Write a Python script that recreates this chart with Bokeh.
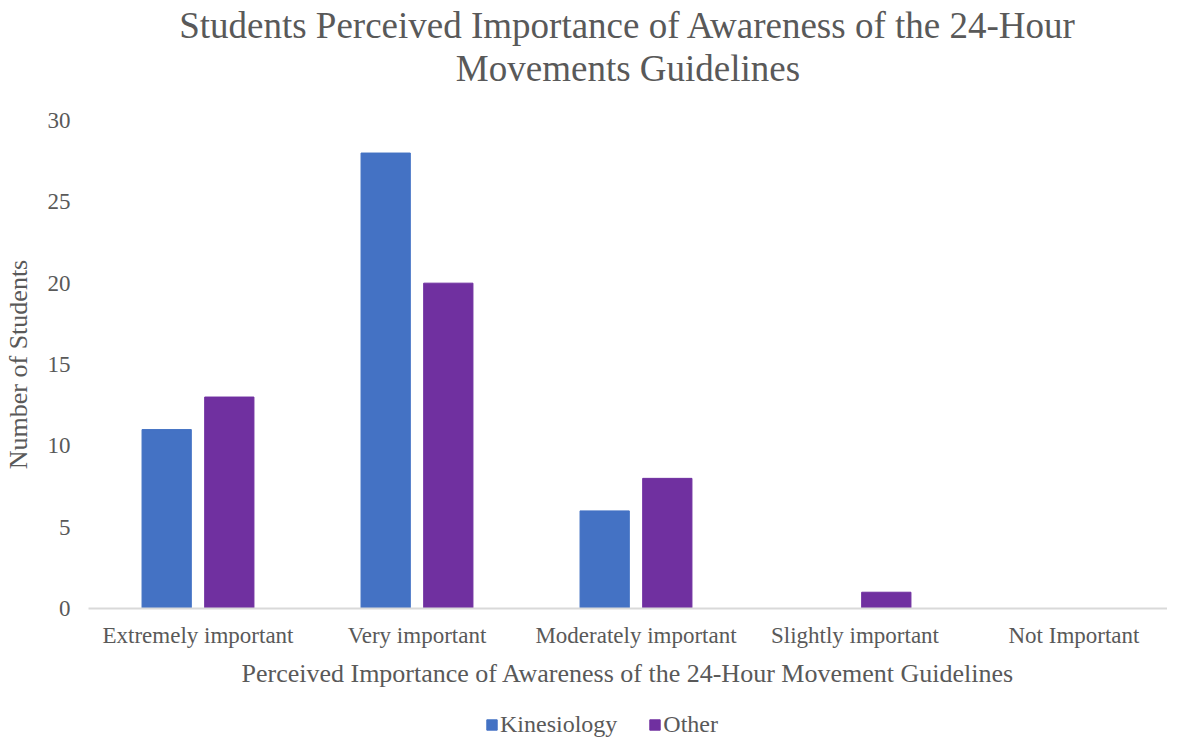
from bokeh.plotting import figure
from bokeh.layouts import column
from bokeh.models import Range1d, Title, Legend, LegendItem, ColumnDataSource, SingleIntervalTicker, FixedTicker
from bokeh.embed import file_html
from bokeh.resources import INLINE

categories = ["Extremely important", "Very important", "Moderately important", "Slightly important", "Not Important"]
kinesiology = [11, 28, 6, 0, 0]
other = [13, 20, 8, 1, 0]
series_names = ["Kinesiology", "Other"]
colors = ["#4472C4", "#7030A0"]
title_lines = ["Students Perceived Importance of Awareness of the 24-Hour", "Movements Guidelines"]

FONT = "Liberation Serif"
TXT = "#595959"

centers = [i + 0.5 for i in range(len(categories))]
src = ColumnDataSource(dict(xk=[c - 0.143 for c in centers], xo=[c + 0.143 for c in centers],
                            k=kinesiology, o=other))

p = figure(width=1167, height=706, x_range=Range1d(0, 4.927), y_range=Range1d(0, 30),
           output_backend="svg", toolbar_location=None,
           min_border_left=80, min_border_right=0, min_border_top=120, min_border_bottom=98)
p.outline_line_color = None
p.xgrid.grid_line_color = None
p.ygrid.grid_line_color = None

p.vbar(x="xk", top="k", width=0.225, source=src, fill_color=colors[0], line_color=colors[0])
p.vbar(x="xo", top="o", width=0.225, source=src, fill_color=colors[1], line_color=colors[1])

p.yaxis.ticker = SingleIntervalTicker(interval=5)
p.yaxis.axis_line_color = None
p.yaxis.major_tick_line_color = None
p.yaxis.minor_tick_line_color = None
p.yaxis.major_label_text_font = FONT
p.yaxis.major_label_text_font_size = "23px"
p.yaxis.major_label_text_color = TXT
p.yaxis.major_label_standoff = 12
p.yaxis.axis_label = "Number of Students"
p.yaxis.axis_label_text_font = FONT
p.yaxis.axis_label_text_font_size = "26px"
p.yaxis.axis_label_text_font_style = "normal"
p.yaxis.axis_label_text_color = TXT
p.yaxis.axis_label_standoff = 12

p.xaxis.ticker = FixedTicker(ticks=centers)
p.xaxis.major_label_overrides = {c: lab for c, lab in zip(centers, categories)}
p.xaxis.axis_line_color = "#D9D9D9"
p.xaxis.axis_line_width = 2
p.xaxis.major_tick_line_color = None
p.xaxis.minor_tick_line_color = None
p.xaxis.major_label_text_font = FONT
p.xaxis.major_label_text_font_size = "23px"
p.xaxis.major_label_text_color = TXT
p.xaxis.major_label_standoff = 8
p.xaxis.axis_label = "Perceived Importance of Awareness of the 24-Hour Movement Guidelines"
p.xaxis.axis_label_text_font = FONT
p.xaxis.axis_label_text_font_size = "26px"
p.xaxis.axis_label_text_font_style = "normal"
p.xaxis.axis_label_text_color = TXT
p.xaxis.axis_label_standoff = 8

spacer = Title(text=" ", align="center", text_font=FONT, text_font_size="27px", standoff=0)
t2 = Title(text=title_lines[1], align="center", text_font=FONT, text_font_size="37px",
           text_font_style="normal", text_color=TXT, standoff=0)
t1 = Title(text=title_lines[0], align="center", text_font=FONT, text_font_size="37px",
           text_font_style="normal", text_color=TXT, standoff=0)
p.add_layout(spacer, "above")
p.add_layout(t2, "above")
p.add_layout(t1, "above")

# legend strip below the chart (its bars are out of view; only the legend shows)
p2 = figure(width=1167, height=32, x_range=Range1d(100, 101), y_range=Range1d(100, 101),
            output_backend="svg", toolbar_location=None, x_axis_type=None, y_axis_type=None,
            min_border=0)
p2.outline_line_color = None
p2.xgrid.grid_line_color = None
p2.ygrid.grid_line_color = None
k1 = p2.vbar(x="xk", top="k", width=0.225, source=src, fill_color=colors[0], line_color=colors[0])
k2 = p2.vbar(x="xo", top="o", width=0.225, source=src, fill_color=colors[1], line_color=colors[1])
legend = Legend(items=[LegendItem(label=series_names[0], renderers=[k1]),
                       LegendItem(label=series_names[1], renderers=[k2])],
                orientation="horizontal", location=(397, 0),
                label_text_font=FONT, label_text_font_size="24px", label_text_color=TXT,
                glyph_width=13, glyph_height=13, label_standoff=2, spacing=31,
                border_line_color=None, background_fill_alpha=0, margin=0, padding=2)
p2.add_layout(legend, "center")

open("out.html", "w").write(file_html(column(p, p2, spacing=0), INLINE))
